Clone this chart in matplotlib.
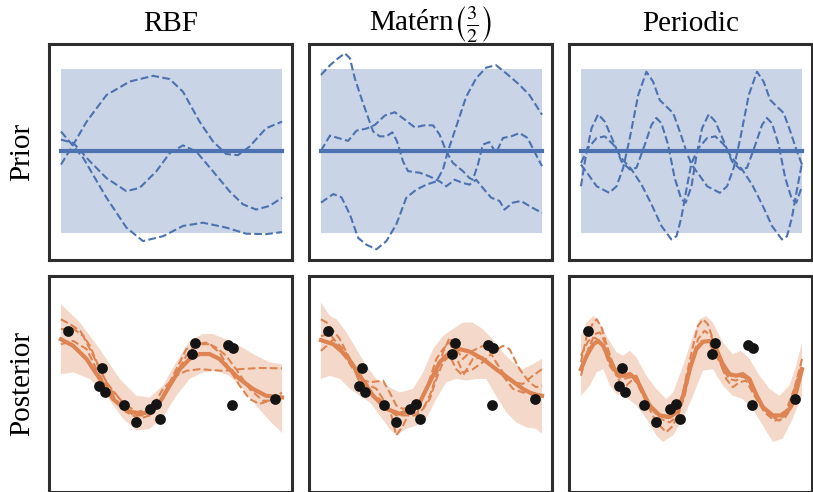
import numpy as np
import matplotlib.pyplot as plt

# ---------------------------------------------------------------------------
# Data (x in [0, 1], y in prior-std units)
# ---------------------------------------------------------------------------

# Prior: mean 0, band = +/- 2 std
prior_x = [0.0, 1.0]
prior_mean = [0.0, 0.0]
prior_lo = [-2.0, -2.0]
prior_hi = [2.0, 2.0]

# RBF prior samples
rbf_a_x = [0, .056, .116, .206, .311, .417, .492, .552, .627, .687, .747, .8, .853, .928, 1.0]
rbf_a_y = [-.34, .15, .71, 1.36, 1.69, 1.83, 1.75, 1.44, .71, .23, -.08, -.11, .10, .55, .71]
rbf_b_x = [0, .101, .206, .296, .371, .462, .552, .642, .747, .838, .928, 1.0]
rbf_b_y = [.47, -.18, -1.15, -1.88, -2.21, -2.09, -1.84, -1.76, -1.88, -2.03, -2.04, -1.99]
rbf_c_x = [0, .056, .131, .206, .296, .356, .432, .492, .552, .612, .687, .762, .823, .883, .943, 1.0]
rbf_c_y = [.27, .19, -.26, -.67, -.99, -.91, -.50, -.06, .13, -.02, -.50, -.99, -1.31, -1.44, -1.35, -1.15]

# Matern 3/2 prior samples
mat_a_x = [0, .041, .078, .108, .131, .153, .183, .214, .236, .266, .296, .323, .344, .371, .394,
           .447, .492, .537, .567, .605, .642, .672, .702, .732, .770, .808, .830, .868, .905, .958, 1.0]
mat_a_y = [1.85, 2.09, 2.26, 2.38, 2.26, 1.77, 1.28, .80, .47, .35, .35, .45, .23, -.26, -.50,
           -.54, -.63, -.75, -.87, -.71, -.79, -.83, -.71, -.91, -1.15, -1.23, -1.44, -1.27, -1.23, -1.40, -1.52]
mat_b_x = [0, .041, .078, .123, .161, .206, .244, .289, .334, .379, .424, .469, .507, .537, .567,
           .597, .642, .672, .687, .710, .732, .762, .792, .823, .860, .898, .935, .965, 1.0]
mat_b_y = [0, .37, .31, .24, .49, .54, .63, .86, .94, .76, .57, .62, .62, .39, -.02,
           -.30, -.50, -.67, -.71, -.34, .15, .21, -.06, .31, .35, .43, .31, -.02, -.38]
mat_c_x = [0, .056, .093, .131, .168, .206, .251, .296, .341, .386, .432, .477, .522, .552, .574,
           .612, .657, .702, .747, .792, .838, .898, .943, 1.0]
mat_c_y = [-1.27, -1.06, -1.14, -1.56, -2.13, -2.30, -2.41, -2.21, -1.80, -1.15, -.95, -.83, -.75, -.46, -.02,
           .59, 1.32, 1.77, 2.03, 2.09, 1.89, 1.61, 1.36, .88]

# Periodic prior samples
per_a_x = [0, .033, .071, .128, .161, .191, .221, .259, .296, .326, .356, .386, .417, .447, .477,
           .5, .533, .571, .628, .661, .691, .721, .759, .796, .826, .856, .886, .917, .947, .977, 1.0]
per_a_y = [-.34, -.58, -.87, -1.03, -.87, -.42, .31, 1.36, 1.93, 1.69, 1.24, 1.08, .92, .47, -.02,
           -.34, -.58, -.87, -1.03, -.87, -.42, .31, 1.36, 1.93, 1.69, 1.24, 1.08, .92, .47, -.02, -.34]
per_b_x = [0, .033, .071, .108, .146, .183, .229, .274, .319, .364, .409, .432, .454, .477,
           .5, .533, .571, .608, .646, .683, .729, .774, .819, .864, .909, .932, .954, .977, 1.0]
per_b_y = [-.30, .07, .31, .35, .15, -.18, -.46, -.83, -1.31, -1.84, -2.17, -2.09, -1.64, -.95,
           -.30, .07, .31, .35, .15, -.18, -.46, -.83, -1.31, -1.84, -2.17, -2.09, -1.64, -.95, -.30]
per_c_x = [0, .023, .048, .078, .108, .146, .183, .221, .251, .289, .319, .341, .364, .394, .424, .454, .474,
           .5, .523, .548, .578, .608, .646, .683, .721, .751, .789, .819, .841, .864, .894, .924, .954, .974, 1.0]
per_c_y = [-.87, -.10, .55, .89, .71, .23, -.26, -.46, -.42, .15, .63, .80, .67, .15, -.67, -1.19, -1.27,
           -.87, -.10, .55, .89, .71, .23, -.26, -.46, -.42, .15, .63, .80, .67, .15, -.67, -1.19, -1.27, -.87]

# Observations (same in all posterior panels)
obs_x = [.033, .186, .173, .199, .286, .341, .402, .432, .447, .594, .608, .755, .778, .773, .970]
obs_y = [1.27, .37, -.09, -.22, -.54, -.97, -.64, -.52, -.88, .70, .97, .92, .84, -.54, -.41]

# RBF posterior
rbf_mean_x = [0, .056, .116, .176, .236, .296, .356, .402, .447, .492, .537, .582, .627, .672, .717,
              .762, .808, .868, .928, 1.0]
rbf_mean_y = [1.06, .90, .58, .09, -.40, -.68, -.76, -.72, -.48, -.07, .33, .58, .70, .70, .58,
              .33, .09, -.15, -.32, -.36]
rbf_hi_x = [0, .086, .176, .266, .341, .402, .462, .522, .582, .642, .687, .747, .808, .883, .943, 1.0]
rbf_hi_y = [1.92, 1.47, .82, .09, -.32, -.36, -.07, .50, 1.02, 1.19, 1.19, 1.06, .90, .66, .50, .45]
rbf_lo_x = [0, .056, .131, .206, .281, .341, .402, .462, .522, .582, .642, .702, .762, .823, .883, .943, 1.0]
rbf_lo_y = [.21, .25, .09, -.32, -.88, -1.17, -1.13, -.84, -.32, .09, .25, .29, .17, -.15, -.56, -.93, -1.23]
rbf_s1_x = [0, .041, .086, .131, .176, .221, .281, .341, .402, .447, .507, .567, .612, .657, .702,
            .747, .792, .853, .913, .958, 1.0]
rbf_s1_y = [1.55, 1.43, 1.27, .90, .33, -.15, -.48, -.72, -.64, -.44, .09, .66, .94, .98, .86,
            .66, .33, -.15, -.44, -.44, -.32]
rbf_s2_x = [0, .056, .101, .146, .206, .266, .326, .371, .417, .462, .522, .567, .627, .732, .808, .898, 1.0]
rbf_s2_y = [1.31, 1.32, 1.14, .66, .01, -.40, -.80, -.80, -.56, -.15, .17, .29, .33, .29, .33, .36, .35]
rbf_s3_x = [0, .056, .116, .176, .236, .296, .356, .402, .447, .507, .567, .612, .672, .717, .762,
            .808, .853, .898, .943, 1.0]
rbf_s3_y = [.94, 1.02, .82, .17, -.32, -.72, -.88, -.80, -.48, .17, .82, .94, .94, .74, .33,
            -.07, -.40, -.52, -.44, -.24]

# Matern posterior
mat_mean_x = [0, .056, .116, .176, .236, .296, .356, .402, .447, .492, .537, .582, .627, .672, .732,
              .792, .853, .913, .958, 1.0]
mat_mean_y = [1.04, .94, .66, .17, -.32, -.64, -.76, -.68, -.48, .01, .50, .74, .82, .76, .58,
              .33, .09, -.15, -.28, -.32]
mat_hi_x = [0, .041, .071, .116, .161, .206, .251, .296, .356, .417, .462, .507, .552, .597, .642,
            .687, .732, .777, .823, .868, .913, .958, 1.0]
mat_hi_y = [1.96, 1.63, 1.55, 1.23, .82, .41, .09, -.07, -.24, -.15, .25, .82, 1.14, 1.31, 1.47,
            1.47, 1.31, 1.06, .74, .50, .33, .45, .58]
mat_lo_x = [0, .041, .086, .131, .176, .221, .266, .311, .341, .386, .432, .477, .522, .567, .612,
            .657, .702, .747, .792, .838, .883, .928, .973, 1.0]
mat_lo_y = [.09, .17, .09, -.15, -.32, -.48, -.80, -1.13, -1.29, -1.13, -1.05, -.88, -.40, .01, .09,
            .05, .09, .09, -.32, -.72, -.97, -1.09, -1.13, -1.25]
mat_s1_x = [0, .026, .056, .086, .116, .146, .168, .191, .221, .266, .311, .341, .371, .402, .432, .462,
            .492, .522, .552, .582, .612, .642, .672, .702, .732, .762, .792, .823, .868, .913, .958, 1.0]
mat_s1_y = [1.55, 1.47, 1.27, 1.06, .74, .41, .09, -.11, -.24, -.40, -.64, -1.29, -1.05, -.72, -.56, -.64,
            -.32, .17, .74, 1.10, .82, .58, .74, .82, .90, .78, .50, .25, .01, -.03, .17, .33]
mat_s2_x = [0, .026, .056, .086, .116, .146, .176, .221, .281, .311, .341, .371, .402, .432, .462,
            .492, .522, .552, .582, .612, .642, .687, .732, .777, .823, .853, .898, .943, .973, 1.0]
mat_s2_y = [.78, .90, 1.06, .78, .58, .33, .09, .01, .05, -.24, -.56, -.64, -.60, -.80, -.32,
            .09, .58, .82, .98, .62, .25, .33, .50, .74, .90, .82, .33, .01, -.11, -.07]
mat_s3_x = [0, .041, .071, .101, .131, .161, .191, .221, .251, .281, .311, .341, .386, .432, .462,
            .492, .522, .552, .582, .612, .642, .687, .732, .777, .823, .868, .913, .958, 1.0]
mat_s3_y = [1.14, 1.19, .98, .82, .58, .33, .01, -.07, -.15, -.40, -.68, -.80, -.80, -.80, -.64,
            -.40, .09, .50, .66, .33, .17, .58, .62, .41, .17, -.15, -.24, -.24, -.32]

# Periodic posterior
per_mean_x = [0, .026, .056, .078, .101, .131, .161, .191, .221, .251, .281, .311, .356, .402, .432, .462,
              .492, .522, .552, .582, .612, .642, .672, .702, .732, .762, .792, .823, .868, .913, .943, .973, 1.0]
per_mean_y = [.33, .66, .94, 1.02, .90, .54, .25, .17, .21, .09, -.24, -.56, -.80, -.84, -.72, -.32,
              .33, .82, 1.00, 1.02, .82, .45, .21, .17, .21, .09, -.28, -.60, -.80, -.80, -.64, -.24, .33]
per_hi_x = [0, .026, .056, .078, .116, .161, .191, .221, .251, .296, .341, .386, .417, .462, .507,
            .537, .567, .597, .642, .687, .725, .762, .808, .853, .898, .943, .973, 1.0]
per_hi_y = [1.14, 1.47, 1.63, 1.55, 1.14, .74, .66, .78, .62, .17, -.15, -.40, -.24, .41, 1.14,
            1.55, 1.63, 1.47, .98, .70, .78, .58, .17, -.15, -.32, -.07, .41, .98]
per_lo_x = [0, .041, .071, .101, .131, .161, .206, .251, .296, .341, .371, .417, .462, .507, .552,
            .597, .642, .687, .732, .777, .823, .868, .913, .958, 1.0]
per_lo_y = [-.32, -.07, .25, .33, -.07, -.28, -.36, -.56, -.88, -1.29, -1.45, -1.29, -.88, -.32, .29,
            .33, -.07, -.32, -.40, -.64, -1.05, -1.45, -1.37, -.88, -.32]
per_s1_x = [0, .026, .056, .071, .093, .131, .161, .191, .221, .251, .296, .341, .386, .417, .447, .477,
            .507, .529, .552, .574, .612, .642, .672, .702, .732, .762, .808, .853, .898, .943, .973, 1.0]
per_s1_y = [.50, 1.14, 1.47, 1.55, 1.35, .66, .25, .17, .21, .01, -.48, -.97, -1.21, -1.05, -.64, .17,
            .90, 1.39, 1.55, 1.43, .82, .33, .09, .05, .17, .01, -.48, -.80, -.93, -.64, .01, .58]
per_s2_x = [0, .033, .063, .086, .116, .146, .176, .206, .236, .266, .311, .356, .402, .439, .469,
            .499, .529, .559, .589, .620, .657, .687, .717, .747, .785, .830, .875, .920, .958, 1.0]
per_s2_y = [.17, .82, 1.19, 1.23, .90, .41, .01, -.07, .09, -.07, -.56, -.88, -.97, -.80, -.32,
            .41, 1.06, 1.27, 1.14, .66, .09, -.11, .01, .05, -.32, -.72, -.93, -.88, -.56, .33]
per_s3_x = [0, .033, .063, .093, .131, .161, .191, .221, .251, .289, .334, .379, .417, .454, .484,
            .514, .544, .574, .612, .650, .680, .717, .755, .792, .838, .883, .928, .965, 1.0]
per_s3_y = [.66, 1.02, 1.10, .98, .41, .17, .09, .13, .17, -.32, -.72, -.88, -.80, -.48, .17,
            .78, 1.02, 1.02, .66, .25, .17, .17, .09, -.32, -.68, -.84, -.68, -.15, .45]

titles = ["RBF", r"Matérn$\left(\frac{3}{2}\right)$", "Periodic"]
row_labels = ["Prior", "Posterior"]

prior_samples = [
    [(rbf_a_x, rbf_a_y), (rbf_b_x, rbf_b_y), (rbf_c_x, rbf_c_y)],
    [(mat_a_x, mat_a_y), (mat_b_x, mat_b_y), (mat_c_x, mat_c_y)],
    [(per_a_x, per_a_y), (per_b_x, per_b_y), (per_c_x, per_c_y)],
]
post_mean = [(rbf_mean_x, rbf_mean_y), (mat_mean_x, mat_mean_y), (per_mean_x, per_mean_y)]
post_band = [
    (rbf_hi_x, rbf_hi_y, rbf_lo_x, rbf_lo_y),
    (mat_hi_x, mat_hi_y, mat_lo_x, mat_lo_y),
    (per_hi_x, per_hi_y, per_lo_x, per_lo_y),
]
post_samples = [
    [(rbf_s1_x, rbf_s1_y), (rbf_s2_x, rbf_s2_y), (rbf_s3_x, rbf_s3_y)],
    [(mat_s1_x, mat_s1_y), (mat_s2_x, mat_s2_y), (mat_s3_x, mat_s3_y)],
    [(per_s1_x, per_s1_y), (per_s2_x, per_s2_y), (per_s3_x, per_s3_y)],
]

# ---------------------------------------------------------------------------
# Figure
# ---------------------------------------------------------------------------
plt.rcParams["font.family"] = ["Liberation Serif", "DejaVu Serif"]
plt.rcParams["mathtext.fontset"] = "stix"

BLUE = "#4C72B0"
ORANGE = "#DD8452"
W, H = 813, 492
lefts = [49, 309, 569]
tops = [43.5, 275.5]
pw, ph = 243, 216

fig = plt.figure(figsize=(W / 100, H / 100), dpi=100)


def make_ax(col, row):
    ax = fig.add_axes([lefts[col] / W, (H - tops[row] - ph) / H, pw / W, ph / H])
    ax.set_xlim(-0.054, 1.045)
    ax.set_ylim(-2.66, 2.62)
    ax.set_xticks([])
    ax.set_yticks([])
    for sp in ax.spines.values():
        sp.set_color("#2e2e2e")
        sp.set_linewidth(2.2)
    return ax


for col in range(3):
    # --- prior row ---
    ax = make_ax(col, 0)
    ax.fill_between(prior_x, prior_lo, prior_hi, color=BLUE, alpha=0.3, linewidth=0, zorder=1)
    for sx, sy in prior_samples[col]:
        ax.plot(sx, sy, "--", color=BLUE, linewidth=1.5, zorder=2)
    ax.plot(prior_x, prior_mean, "-", color=BLUE, linewidth=3, zorder=3)
    ax.set_title(titles[col], fontsize=21, pad=9)

    # --- posterior row ---
    ax = make_ax(col, 1)
    hx, hy, lx, ly = post_band[col]
    ax.fill(np.concatenate([hx, lx[::-1]]), np.concatenate([hy, ly[::-1]]),
            color=ORANGE, alpha=0.3, linewidth=0, zorder=1)
    for sx, sy in post_samples[col]:
        ax.plot(sx, sy, "--", color=ORANGE, linewidth=1.5, zorder=2)
    mx, my = post_mean[col]
    ax.plot(mx, my, "-", color=ORANGE, linewidth=3, zorder=3)
    ax.scatter(obs_x, obs_y, s=60, color="#141414", zorder=5, linewidths=0)

for row in range(2):
    cy = 1 - (tops[row] + ph / 2) / H
    fig.text(22 / W, cy, row_labels[row], rotation=90, ha="center", va="center", fontsize=21)

fig.savefig("out.png", dpi=100)
